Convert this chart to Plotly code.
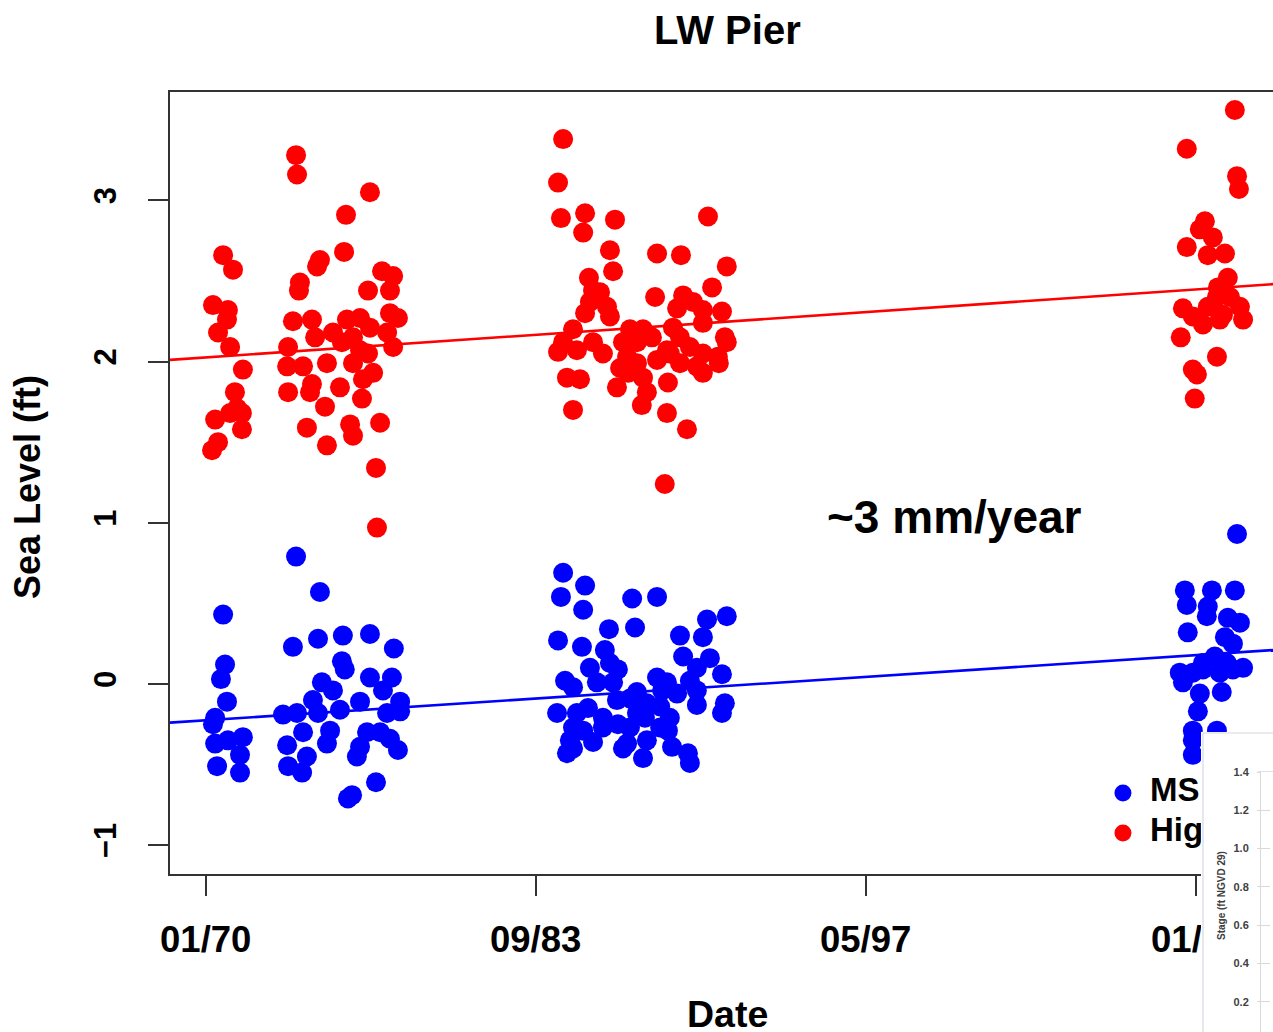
import numpy as np
import pandas as pd
import plotly.graph_objects as go

W, H = 1273, 1032

# ---------------- data (decimal years, feet) ----------------
high_years = [
    1973.74, 1973.78, 1976.80, 1975.81, 1970.72, 1971.13, 1975.73, 1974.73, 1974.61, 1973.90,
    1973.86, 1977.30, 1977.76, 1977.63, 1976.72, 1970.30, 1970.92, 1970.88, 1973.61, 1974.40,
    1974.53, 1975.85, 1976.39, 1976.80, 1977.63, 1977.96, 1970.51, 1971.01, 1975.27, 1975.64,
    1976.10, 1973.41, 1973.37, 1974.03, 1975.02, 1977.76, 1977.51, 1976.39, 1976.72, 1976.10,
    1971.54, 1976.93, 1976.51, 1973.41, 1974.40, 1974.32, 1975.56, 1976.47, 1971.21, 1971.30,
    1971.50, 1971.01, 1974.94, 1970.39, 1971.50, 1974.19, 1975.98, 1976.10, 1977.22, 1975.02,
    1970.26, 1970.51, 1977.05, 1977.09,
    1984.80, 1984.59, 1984.71, 1985.71, 1985.63, 1986.95, 1990.80, 1986.74, 1988.69, 1989.68,
    1991.58, 1986.87, 1985.87, 1990.97, 1988.61, 1986.04, 1986.33, 1989.77, 1990.18, 1985.91,
    1986.62, 1986.74, 1989.52, 1990.59, 1991.38, 1985.71, 1990.59, 1985.21, 1987.57, 1988.11,
    1988.48, 1989.35, 1989.64, 1991.50, 1991.58, 1984.80, 1984.59, 1985.37, 1986.04, 1986.45,
    1987.28, 1987.86, 1989.10, 1990.05, 1990.59, 1991.21, 1991.25, 1987.45, 1987.86, 1987.16,
    1988.69, 1989.22, 1989.64, 1990.34, 1990.59, 1984.96, 1985.50, 1987.49, 1988.11, 1989.14,
    1987.03, 1988.27, 1988.06, 1985.21, 1989.10, 1989.93, 1989.01,
    2012.62, 2010.63, 2012.71, 2012.79, 2011.38, 2011.17, 2011.71, 2010.63, 2011.50, 2012.21,
    2012.33, 2011.92, 2011.88, 2012.42, 2010.47, 2010.88, 2011.30, 2011.50, 2012.13, 2012.83,
    2012.96, 2012.00, 2010.38, 2011.88, 2010.88, 2011.05, 2010.96,
]
high_levels = [
    3.28, 3.16, 3.05, 2.91, 2.66, 2.57, 2.68, 2.63, 2.59, 2.49,
    2.44, 2.56, 2.53, 2.44, 2.44, 2.35, 2.32, 2.26, 2.25, 2.26,
    2.15, 2.26, 2.27, 2.21, 2.30, 2.27, 2.18, 2.09, 2.18, 2.12,
    2.15, 2.09, 1.97, 1.97, 1.99, 2.09, 2.18, 2.07, 2.05, 1.99,
    1.95, 1.93, 1.89, 1.81, 1.86, 1.81, 1.84, 1.77, 1.81, 1.71,
    1.68, 1.68, 1.72, 1.64, 1.58, 1.59, 1.61, 1.54, 1.62, 1.48,
    1.45, 1.50, 1.34, 0.97,
    3.38, 3.11, 2.89, 2.92, 2.80, 2.88, 2.90, 2.69, 2.67, 2.66,
    2.59, 2.56, 2.52, 2.46, 2.40, 2.44, 2.43, 2.41, 2.37, 2.37,
    2.34, 2.28, 2.33, 2.32, 2.31, 2.30, 2.24, 2.20, 2.20, 2.20,
    2.15, 2.21, 2.15, 2.15, 2.12, 2.12, 2.06, 2.07, 2.12, 2.05,
    2.12, 2.12, 2.07, 2.09, 2.05, 2.03, 1.99, 2.03, 1.99, 1.96,
    2.01, 2.05, 1.99, 1.97, 1.93, 1.90, 1.89, 1.93, 1.90, 1.87,
    1.84, 1.81, 1.73, 1.70, 1.68, 1.58, 1.24,
    3.56, 3.32, 3.15, 3.07, 2.87, 2.82, 2.77, 2.71, 2.66, 2.67,
    2.52, 2.46, 2.40, 2.40, 2.33, 2.28, 2.23, 2.34, 2.29, 2.34,
    2.26, 2.26, 2.15, 2.03, 1.95, 1.92, 1.77,
]

msl_years = [
    1973.74, 1974.73, 1970.72, 1973.61, 1974.65, 1975.68, 1976.80, 1977.79, 1970.80, 1970.63,
    1975.64, 1975.76, 1974.81, 1976.80, 1977.71, 1977.34, 1970.88, 1974.44, 1975.27, 1975.56,
    1976.39, 1970.39, 1970.30, 1973.20, 1973.78, 1974.65, 1978.05, 1978.05, 1977.51, 1971.54,
    1970.92, 1970.39, 1974.03, 1975.15, 1975.02, 1973.37, 1976.68, 1977.22, 1977.63, 1976.39,
    1976.26, 1977.96, 1971.42, 1974.19, 1970.47, 1971.42, 1973.41, 1973.99, 1977.05, 1976.06,
    1975.89,
    1984.80, 1985.71, 1984.71, 1985.63, 1987.66, 1988.69, 1991.58, 1990.76, 1986.70, 1987.78,
    1989.64, 1990.59, 1984.59, 1985.58, 1989.77, 1990.88, 1986.53, 1986.74, 1987.07, 1985.91,
    1990.34, 1991.38, 1984.88, 1985.21, 1986.20, 1988.69, 1989.10, 1990.05, 1986.87, 1987.86,
    1987.57, 1988.90, 1989.52, 1990.34, 1987.03, 1988.27, 1988.82, 1991.50, 1991.38, 1984.55,
    1985.37, 1985.83, 1986.45, 1990.34, 1987.86, 1988.19, 1989.22, 1985.21, 1985.63, 1986.45,
    1987.07, 1987.57, 1988.82, 1989.14, 1985.08, 1986.04, 1987.45, 1988.27, 1984.96, 1985.21,
    1987.28, 1989.31, 1988.11, 1989.97, 1990.05,
    2012.71, 2010.55, 2010.63, 2011.67, 2011.50, 2011.46, 2012.62, 2012.33, 2012.83, 2010.67,
    2012.21, 2012.54, 2011.79, 2011.30, 2012.29, 2012.96, 2010.34, 2010.88, 2011.30, 2012.00,
    2012.54, 2010.47, 2012.08, 2011.17, 2011.09, 2011.88, 2010.88, 2010.88, 2010.88,
]
msl_levels = [
    0.79, 0.57, 0.43, 0.23, 0.28, 0.30, 0.31, 0.22, 0.12, 0.03,
    0.14, 0.09, 0.01, 0.04, 0.04, -0.04, -0.11, -0.10, -0.04, -0.16,
    -0.11, -0.21, -0.25, -0.19, -0.18, -0.18, -0.11, -0.17, -0.18, -0.33,
    -0.35, -0.37, -0.30, -0.29, -0.37, -0.38, -0.30, -0.30, -0.34, -0.39,
    -0.45, -0.41, -0.44, -0.45, -0.51, -0.55, -0.51, -0.55, -0.61, -0.69,
    -0.71,
    0.69, 0.61, 0.54, 0.46, 0.53, 0.54, 0.42, 0.40, 0.34, 0.35,
    0.30, 0.29, 0.27, 0.23, 0.17, 0.16, 0.21, 0.13, 0.09, 0.10,
    0.10, 0.06, 0.02, -0.02, 0.01, 0.04, 0.01, 0.02, 0.01, -0.05,
    -0.09, -0.04, -0.06, -0.04, -0.10, -0.12, -0.14, -0.12, -0.18, -0.18,
    -0.18, -0.15, -0.21, -0.13, -0.18, -0.21, -0.21, -0.27, -0.29, -0.27,
    -0.25, -0.27, -0.27, -0.29, -0.35, -0.36, -0.37, -0.35, -0.43, -0.40,
    -0.40, -0.39, -0.46, -0.43, -0.49,
    0.93, 0.58, 0.49, 0.58, 0.48, 0.42, 0.58, 0.41, 0.38, 0.32,
    0.29, 0.25, 0.17, 0.13, 0.13, 0.10, 0.07, 0.07, 0.09, 0.07,
    0.09, 0.01, -0.05, -0.06, -0.17, -0.29, -0.29, -0.35, -0.44,
]

# linear trends (~3 mm/year) evaluated at the axis ends
trend_years = [1968.52, 2014.20]
high_trend = [2.01, 2.48]
msl_trend = [-0.24, 0.21]

x_range_years = [1968.52, 2014.20]
y_range = [-1.179, 3.672]
x_tick_dates = ["1970-01-01", "1983-09-01", "1997-05-01", "2011-01-01"]
x_tick_labels = ["01/70", "09/83", "05/97", "01/11"]
y_ticks = [-1, 0, 1, 2, 3]

legend_names = ["MSL", "High Tide"]
legend_colors = ["#0000ff", "#ff0000"]

inset_ticks = [0.2, 0.4, 0.6, 0.8, 1.0, 1.2, 1.4]
inset_range = [0.042, 1.4]


def to_date(y):
    yr = int(np.floor(y))
    s = pd.Timestamp(yr, 1, 1)
    e = pd.Timestamp(yr + 1, 1, 1)
    return s + (e - s) * (y - yr)


def dates(lst):
    return [to_date(v) for v in lst]


FONT = "Liberation Sans, Arial, sans-serif"

fig = go.Figure()

fig.add_trace(go.Scatter(
    x=dates(msl_years), y=msl_levels, mode="markers",
    marker=dict(size=20, color="#0000ff", line=dict(width=0)),
    showlegend=False, xaxis="x", yaxis="y"))
fig.add_trace(go.Scatter(
    x=dates(high_years), y=high_levels, mode="markers",
    marker=dict(size=20, color="#ff0000", line=dict(width=0)),
    showlegend=False, xaxis="x", yaxis="y"))
fig.add_trace(go.Scatter(
    x=dates(trend_years), y=high_trend, mode="lines",
    line=dict(color="#ff0000", width=2.6), showlegend=False))
fig.add_trace(go.Scatter(
    x=dates(trend_years), y=msl_trend, mode="lines",
    line=dict(color="#0000ff", width=2.6), showlegend=False))

# hand-made legend inside the plot (so the inset can cover it)
xr0, xr1 = x_range_years
leg_x = xr0 + (xr1 - xr0) * 0.8640
leg_tx = xr0 + (xr1 - xr0) * 0.8885
yr0, yr1 = y_range
leg_y = [yr0 + (yr1 - yr0) * 0.1037, yr0 + (yr1 - yr0) * 0.0525]
fig.add_trace(go.Scatter(
    x=dates([leg_x, leg_x]), y=leg_y, mode="markers",
    marker=dict(size=17, color=legend_colors), showlegend=False))
fig.add_trace(go.Scatter(
    x=dates([leg_tx, leg_tx]), y=leg_y, mode="text", text=legend_names,
    textposition="middle right",
    textfont=dict(family=FONT, size=33, color="black", weight="bold"),
    showlegend=False))

# inset cover subplot (x2/y2) and inset axis (x3/y3)
fig.add_trace(go.Scatter(x=[None], y=[None], xaxis="x2", yaxis="y2", showlegend=False))
fig.add_trace(go.Scatter(x=[None], y=[None], xaxis="x3", yaxis="y3", showlegend=False))

px_x0 = 170
px_bot = 874
px_top = 92

fig.update_layout(
    template="none",
    width=W, height=H, autosize=False,
    margin=dict(l=0, r=0, t=0, b=0, pad=0),
    paper_bgcolor="white", plot_bgcolor="white",
    showlegend=False,
    xaxis=dict(
        domain=[px_x0 / W, 1.0], anchor="y", automargin=False,
        type="date",
        range=[to_date(xr0), to_date(xr1)],
        tickvals=x_tick_dates, ticktext=x_tick_labels,
        ticks="outside", ticklen=20, tickwidth=1.6, tickcolor="#333333",
        showline=True, linecolor="#333333", linewidth=1.6, mirror=True,
        showgrid=False, zeroline=False,
        tickfont=dict(family=FONT, size=36.5, color="black", weight="bold"),
        ticklabelstandoff=12,
    ),
    yaxis=dict(
        domain=[(H - px_bot) / H, (H - px_top) / H], anchor="x", automargin=False,
        range=y_range, tickvals=y_ticks,
        ticks="outside", ticklen=20, tickwidth=1.6, tickcolor="#333333",
        showline=True, linecolor="#333333", linewidth=1.6, mirror=False,
        showgrid=False, zeroline=False, tickangle=-90,
        tickfont=dict(family=FONT, size=31, color="black", weight="bold"),
        ticklabelstandoff=20,
    ),
    xaxis2=dict(domain=[1201 / W, 1.0], anchor="y2", range=[0, 72], visible=False,
                automargin=False),
    yaxis2=dict(domain=[0, 300 / H], anchor="x2", range=[0, 300], visible=False,
                automargin=False),
    xaxis3=dict(domain=[1261 / W, 1.0], anchor="y3", range=[0, 1], visible=False,
                automargin=False),
    yaxis3=dict(
        domain=[0, 260 / H], anchor="x3", range=inset_range, automargin=False,
        tickvals=inset_ticks, tickformat=".1f",
        ticks="outside", ticklen=3, tickcolor="#d9d9d9",
        showline=True, linecolor="#d9d9d9", linewidth=1,
        showgrid=True, gridcolor="#d9d9d9", griddash="dash", gridwidth=1,
        zeroline=False,
        tickfont=dict(family=FONT, size=11, color="#404040", weight="bold"),
        ticklabelstandoff=6,
    ),
    shapes=[
        dict(type="rect", xref="x2", yref="y2", x0=0, x1=72, y0=0, y1=300,
             fillcolor="white", line=dict(width=0), layer="below"),
        dict(type="line", xref="x2", yref="y2", x0=2, x1=2, y0=0, y1=299,
             line=dict(color="#d3d8df", width=1.2), layer="below"),
        dict(type="line", xref="x2", yref="y2", x0=2, x1=72, y0=299, y1=299,
             line=dict(color="#d3d8df", width=1.2), layer="below"),
        dict(type="line", xref="x2", yref="y2", x0=57, x1=72, y0=260, y1=260,
             line=dict(color="#c5cfdc", width=1.2), layer="below"),
    ],
    annotations=[
        dict(text="LW Pier", x=727 / W, y=1 - 30 / H, xref="paper", yref="paper",
             showarrow=False, xanchor="center", yanchor="middle",
             font=dict(family=FONT, size=40, color="black", weight="bold")),
        dict(text="Date", x=727 / W, y=1 - 1014 / H, xref="paper", yref="paper",
             showarrow=False, xanchor="center", yanchor="middle",
             font=dict(family=FONT, size=37.5, color="black", weight="bold")),
        dict(text="Sea Level (ft)", x=28 / W, y=1 - 487 / H, xref="paper", yref="paper",
             showarrow=False, xanchor="center", yanchor="middle", textangle=-90,
             font=dict(family=FONT, size=36, color="black", weight="bold")),
        dict(text="~3 mm/year", x=954 / W, y=1 - 517 / H, xref="paper", yref="paper",
             showarrow=False, xanchor="center", yanchor="middle",
             font=dict(family=FONT, size=46, color="black", weight="bold")),
        dict(text="Stage (ft NGVD 29)", x=1221 / W, y=1 - 896 / H, xref="paper", yref="paper",
             showarrow=False, xanchor="center", yanchor="middle", textangle=-90,
             font=dict(family=FONT, size=10, color="#404040", weight="bold")),
    ],
)

fig.write_html("out.html")
